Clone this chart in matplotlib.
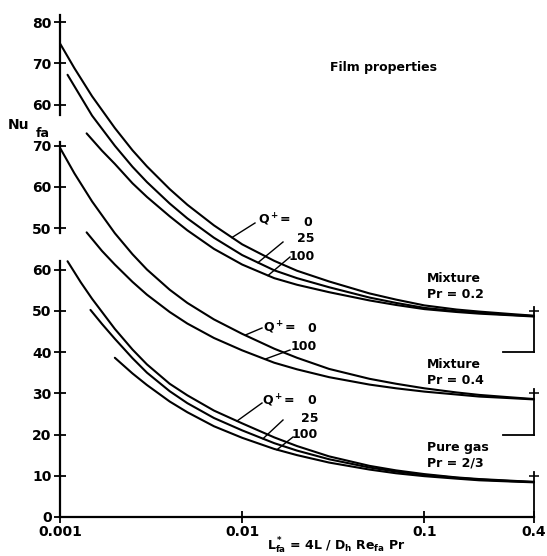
import numpy as np
import matplotlib.pyplot as plt

plt.rcParams['mathtext.fontset'] = 'custom'
plt.rcParams['mathtext.rm'] = 'DejaVu Sans:bold'
plt.rcParams['mathtext.default'] = 'rm'

# Nusselt number vs. dimensionless length, film properties.
# Three families share one axis, each lifted by its own offset.
offset_mix02 = 40
offset_mix04 = 20
offset_gas = 0

# Mixture, Pr = 0.2
x_mix02_q0 = [0.001, 0.0012, 0.0015, 0.002, 0.0025, 0.003, 0.004, 0.005, 0.007, 0.01,
              0.015, 0.02, 0.03, 0.05, 0.07, 0.1, 0.15, 0.2, 0.3, 0.4]
nu_mix02_q0 = [74.8, 68.8, 62.0, 54.3, 48.9, 45.0, 39.5, 35.7, 30.7, 26.1,
               22.1, 19.7, 17.1, 14.2, 12.7, 11.3, 10.3, 9.8, 9.2, 8.8]
x_mix02_q25 = [0.0011, 0.0015, 0.002, 0.0025, 0.003, 0.004, 0.005, 0.007, 0.01,
               0.015, 0.02, 0.03, 0.05, 0.07, 0.1, 0.15, 0.2, 0.3, 0.4]
nu_mix02_q25 = [67.2, 57.3, 50.0, 44.9, 41.2, 36.0, 32.4, 27.7, 23.5,
                19.8, 17.9, 15.7, 13.2, 11.9, 10.7, 9.9, 9.5, 9.0, 8.7]
x_mix02_q100 = [0.0014, 0.0017, 0.002, 0.0025, 0.003, 0.004, 0.005, 0.007, 0.01,
                0.015, 0.02, 0.03, 0.05, 0.07, 0.1, 0.15, 0.2, 0.3, 0.4]
nu_mix02_q100 = [53.0, 48.8, 45.6, 40.9, 37.6, 32.9, 29.5, 25.0, 21.2,
                 17.9, 16.3, 14.5, 12.5, 11.4, 10.4, 9.7, 9.3, 8.9, 8.6]

# Mixture, Pr = 0.4
x_mix04_q0 = [0.001, 0.0012, 0.0015, 0.002, 0.0025, 0.003, 0.004, 0.005, 0.007, 0.01,
              0.015, 0.02, 0.03, 0.05, 0.07, 0.1, 0.15, 0.2, 0.3, 0.4]
nu_mix04_q0 = [69.5, 63.3, 56.5, 48.8, 43.7, 40.0, 35.1, 31.9, 27.9, 24.4,
               20.8, 18.6, 15.9, 13.5, 12.3, 11.2, 10.2, 9.6, 9.0, 8.6]
x_mix04_q100 = [0.0014, 0.0017, 0.002, 0.0025, 0.003, 0.004, 0.005, 0.007, 0.01,
                0.015, 0.02, 0.03, 0.05, 0.07, 0.1, 0.15, 0.2, 0.3, 0.4]
nu_mix04_q100 = [49.0, 44.5, 41.2, 37.0, 33.9, 29.7, 26.9, 23.4, 20.4,
                 17.4, 15.8, 13.9, 12.1, 11.2, 10.4, 9.7, 9.2, 8.8, 8.5]

# Pure gas, Pr = 2/3
x_gas_q0 = [0.0011, 0.0013, 0.0015, 0.002, 0.0025, 0.003, 0.004, 0.005, 0.007, 0.01,
            0.015, 0.02, 0.03, 0.05, 0.07, 0.1, 0.15, 0.2, 0.3, 0.4]
nu_gas_q0 = [62.0, 56.9, 52.9, 45.6, 40.6, 37.0, 32.3, 29.5, 25.8, 22.7,
             19.3, 17.2, 14.7, 12.4, 11.3, 10.4, 9.6, 9.2, 8.8, 8.5]
x_gas_q25 = [0.00147, 0.0017, 0.002, 0.0025, 0.003, 0.004, 0.005, 0.007, 0.01,
             0.015, 0.02, 0.03, 0.05, 0.07, 0.1, 0.15, 0.2, 0.3, 0.4]
nu_gas_q25 = [50.2, 46.8, 43.2, 38.5, 35.0, 30.5, 27.6, 24.0, 21.0,
              17.9, 16.1, 14.0, 12.0, 11.0, 10.2, 9.5, 9.1, 8.7, 8.5]
x_gas_q100 = [0.002, 0.0025, 0.003, 0.004, 0.005, 0.007, 0.01,
              0.015, 0.02, 0.03, 0.05, 0.07, 0.1, 0.15, 0.2, 0.3, 0.4]
nu_gas_q100 = [38.6, 34.8, 32.0, 28.0, 25.4, 22.0, 19.2,
               16.5, 15.0, 13.2, 11.5, 10.6, 9.9, 9.3, 8.9, 8.6, 8.4]

ytick_pos = [0, 10, 20, 30, 40, 50, 60, 70, 80, 90, 100, 110, 120]
ytick_lab = ['0', '10', '20', '30', '40', '50', '60', '50', '60', '70', '60', '70', '80']
xtick_pos = [0.001, 0.01, 0.1, 0.4]
xtick_lab = ['0.001', '0.01', '0.1', '0.4']

W, H = 547, 556
fig = plt.figure(figsize=(W / 100, H / 100), dpi=100)
ax = fig.add_axes([60 / W, 1 - 517 / H, 474 / W, (517 - 13.75) / H])
ax.set_xscale('log')
ax.set_xlim(0.001, 0.4)
ax.set_ylim(0, 122)

for s in ['top', 'right', 'left']:
    ax.spines[s].set_visible(False)
ax.spines['bottom'].set_linewidth(1.6)

ax.set_yticks(ytick_pos)
ax.set_yticklabels(ytick_lab, fontsize=10, fontweight='bold')
ax.set_xticks(xtick_pos)
ax.set_xticklabels(xtick_lab, fontsize=10, fontweight='bold')
ax.xaxis.set_minor_locator(plt.NullLocator())
ax.tick_params(axis='both', direction='inout', length=8, width=1.3, pad=2)

# broken left axis
for y0, y1 in [(0, 62), (68.8, 90.8), (97.5, 121.7)]:
    ax.plot([0.001, 0.001], [y0, y1], color='k', lw=1.6, clip_on=False)

# short right axis pieces with a tick at Nu = 10
for off in [offset_gas, offset_mix04, offset_mix02]:
    ax.plot([0.4, 0.4], [off, off + 11], color='k', lw=1.3, clip_on=False)
    ax.plot([0.4], [off + 10], marker='_', ms=7, mew=1.1, color='k', clip_on=False)
    if off > 0:
        ax.plot([0.27, 0.4], [off, off], color='k', lw=1.3, clip_on=False)

curves = {
    'mix02_q0': (x_mix02_q0, nu_mix02_q0, offset_mix02),
    'mix02_q25': (x_mix02_q25, nu_mix02_q25, offset_mix02),
    'mix02_q100': (x_mix02_q100, nu_mix02_q100, offset_mix02),
    'mix04_q0': (x_mix04_q0, nu_mix04_q0, offset_mix04),
    'mix04_q100': (x_mix04_q100, nu_mix04_q100, offset_mix04),
    'gas_q0': (x_gas_q0, nu_gas_q0, offset_gas),
    'gas_q25': (x_gas_q25, nu_gas_q25, offset_gas),
    'gas_q100': (x_gas_q100, nu_gas_q100, offset_gas),
}
for key, (xs, nus, off) in curves.items():
    ax.plot(xs, np.array(nus) + off, color='k', lw=1.5, clip_on=False,
            solid_joinstyle='round', solid_capstyle='round')


def to_data(px, py):
    return ax.transData.inverted().transform((px, H - py))


def on_curve(key, px):
    xs, nus, off = curves[key]
    x = to_data(px, 300)[0]
    y = np.interp(np.log10(x), np.log10(xs), nus) + off
    return x, y


# leader lines from the Q+ labels to their curves
leaders = [
    ((255, 223), 'mix02_q0', 232), ((283, 242), 'mix02_q25', 258), ((290, 257), 'mix02_q100', 268),
    ((262, 328), 'mix04_q0', 245), ((290, 350), 'mix04_q100', 265),
    ((262, 403), 'gas_q0', 237), ((283, 420), 'gas_q25', 263), ((293, 437), 'gas_q100', 277),
]
for (px, py), key, cx in leaders:
    x0, y0 = to_data(px, py)
    x1, y1 = on_curve(key, cx)
    ax.plot([x0, x1], [y0, y1], color='k', lw=1.0)

lab = dict(fontsize=9, fontweight='bold', va='center')
for (qx, qy), values in [((258, 220), [('0', 308, 222), ('25', 306, 239), ('100', 302, 257)]),
                         ((263, 328), [('0', 312, 328), ('100', 304, 347)]),
                         ((262, 401), [('0', 312, 401), ('25', 310, 419), ('100', 305, 435)])]:
    fig.text(qx / W, 1 - qy / H, r'Q$^+$=', ha='left', **lab)
    for t, tx, ty in values:
        fig.text(tx / W, 1 - ty / H, t, ha='center', **lab)

grp = dict(fontsize=9, fontweight='bold', va='center', ha='left', linespacing=1.3)
fig.text(427 / W, 1 - 286 / H, 'Mixture\nPr = 0.2', **grp)
fig.text(427 / W, 1 - 372 / H, 'Mixture\nPr = 0.4', **grp)
fig.text(427 / W, 1 - 455 / H, 'Pure gas\nPr = 2/3', **grp)

fig.text(383 / W, 1 - 68 / H, 'Film properties', fontsize=9, fontweight='bold', ha='center', va='center')

fig.text(8 / W, 1 - 125 / H, 'Nu', fontsize=10, fontweight='bold', va='center')
fig.text(36 / W, 1 - 133 / H, 'fa', fontsize=9, fontweight='bold', va='center')

fig.text(336 / W, 1 - 546 / H, r'$L^*_{fa}$ = 4L / $D_h$ Re$_{fa}$ Pr',
         fontsize=9, fontweight='bold', ha='center', va='center')

fig.savefig('out.png', dpi=100)
